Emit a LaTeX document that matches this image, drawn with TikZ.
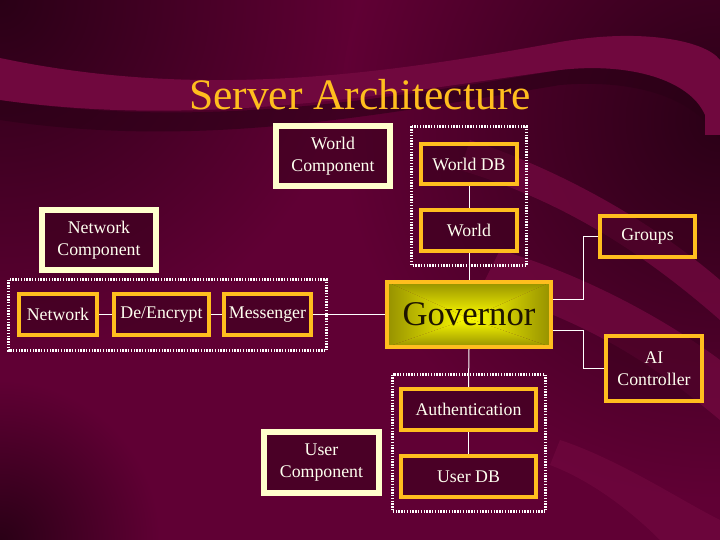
\documentclass[tikz,border=0pt]{standalone}
\usepackage{fontspec}
\setmainfont{Liberation Serif}
\definecolor{bgbase}{RGB}{96,0,52}
\definecolor{bgdark}{RGB}{42,0,22}
\definecolor{bgband}{RGB}{112,8,62}
\definecolor{boxfill}{RGB}{60,0,30}
\definecolor{cream}{RGB}{255,255,204}
\definecolor{orng}{RGB}{255,190,30}
\definecolor{labeltext}{RGB}{255,255,240}
\definecolor{govin}{RGB}{255,255,0}
\definecolor{govout}{RGB}{150,145,0}
\definecolor{govtext}{RGB}{30,20,0}
\newcommand{\lblfont}{\fontsize{17.8}{22}\selectfont}
\begin{document}
\begin{tikzpicture}[x=1pt,y=-1pt,
  cbox/.style={draw=cream, line width=6pt, fill=boxfill, fill opacity=.6, text opacity=1,
    text=labeltext, font=\lblfont, align=center, inner sep=0pt, outer sep=3pt},
  obox/.style={draw=orng, line width=4pt, fill=boxfill, fill opacity=.6, text opacity=1,
    text=labeltext, font=\lblfont, align=center, inner sep=0pt, outer sep=2pt},
  dotbox/.style={draw=white, line width=3pt, dash pattern=on 1.4pt off 1.4pt},
  wire/.style={draw=white, line width=1pt}]
\useasboundingbox (0,0) rectangle (720,540);
% ---------- background ----------
\fill[bgbase] (0,0) rectangle (720,540);
\shade[inner color=bgdark, outer color=bgbase] (0,0) circle (360);
\shade[inner color=bgdark, outer color=bgbase] (0,540) circle (160);
\shade[inner color=bgdark, outer color=bgbase] (720,120) circle (380);
\fill[bgdark, opacity=.6] (0,100) .. controls (200,130) and (380,100) .. (560,70)
   .. controls (640,58) and (700,70) .. (720,110) -- (720,140)
   .. controls (690,90) and (620,80) .. (560,85) .. controls (380,115) and (200,150) .. (0,120) -- cycle;
\fill[bgband] (0,58) .. controls (200,100) and (380,75) .. (560,42)
   .. controls (640,28) and (705,40) .. (720,60) -- (720,135) -- (705,135) -- (705,115)
   .. controls (690,80) and (630,62) .. (560,70) .. controls (380,95) and (200,128) .. (0,100) -- cycle;
\fill[bgband, opacity=.8] (500,250) .. controls (600,280) and (680,330) .. (720,360) -- (720,420)
   .. controls (660,370) and (590,320) .. (480,290) -- cycle;
\fill[bgband, opacity=.8] (470,140) .. controls (560,170) and (650,220) .. (720,280) -- (720,320)
   .. controls (640,250) and (560,200) .. (460,170) -- cycle;
\fill[bgband, opacity=.7] (560,440) .. controls (620,460) and (680,500) .. (720,520) -- (720,540) -- (660,540)
   .. controls (630,510) and (590,480) .. (550,465) -- cycle;
% ---------- title ----------
\node[anchor=base, text=orng, font=\fontsize{43.5}{48}\selectfont] (title) at (360,110) {Server Architecture};
% ---------- groups (dotted) ----------
\draw[dotbox] (411.5,126.5) rectangle (526.5,265.5);
\draw[dotbox] (8.5,279.5) rectangle (326.5,350.5);
\draw[dotbox] (392.5,374.5) rectangle (545.5,511.5);
% ---------- nodes ----------
\node[cbox, minimum width=114, minimum height=60] (wc) at (333,156) {World\\Component};
\node[cbox, minimum width=114, minimum height=60] (nc) at (99,240) {Network\\Component};
\node[cbox, minimum width=115, minimum height=61] (uc) at (321.5,462.5) {User\\Component};
\node[obox, minimum width=96, minimum height=40] (worlddb) at (469,164) {World DB};
\node[obox, minimum width=96, minimum height=41] (world) at (469,230.5) {World};
\node[obox, minimum width=78, minimum height=41] (net) at (58,314.5) {Network};
\node[obox, minimum width=95, minimum height=41] (crypt) at (161.5,314.5) {De/Encrypt};
\node[obox, minimum width=87, minimum height=41] (msg) at (267.5,314.5) {Messenger};
\node[obox, minimum width=164, minimum height=65, fill=none, fill opacity=1, text=govtext,
  font=\fontsize{34.7}{38}\selectfont,
  path picture={
    \coordinate (pc) at ([yshift=-4pt]path picture bounding box.center);
    \shade[top color=govout, bottom color=govin] (path picture bounding box.north west) -- (path picture bounding box.north east) -- (pc) -- cycle;
    \shade[top color=govin, bottom color=govout] (path picture bounding box.south west) -- (path picture bounding box.south east) -- (pc) -- cycle;
    \shade[left color=govout, right color=govin] (path picture bounding box.north west) -- (path picture bounding box.south west) -- (pc) -- cycle;
    \shade[left color=govin, right color=govout] (path picture bounding box.north east) -- (path picture bounding box.south east) -- (pc) -- cycle;
  }] (gov) at (469,314.5) {Governor};
\node[obox, minimum width=95, minimum height=41] (groups) at (647.5,236.5) {Groups};
\node[obox, minimum width=96, minimum height=65] (ai) at (654,368.5) {AI\\Controller};
\node[obox, minimum width=135, minimum height=41] (auth) at (468.5,409.5) {Authentication};
\node[obox, minimum width=135, minimum height=41] (userdb) at (468.5,476.5) {User DB};
% ---------- connectors ----------
\draw[wire] (worlddb.south) -- (world.north);
\draw[wire] (world.south) -- (gov.north);
\draw[wire] (net.east) -- (crypt.west);
\draw[wire] (crypt.east) -- (msg.west);
\draw[wire] (msg.east) -- (gov.west);
\draw[wire] ([yshift=15.5pt]gov.east) -- ++(30,0) |- (groups.west);
\draw[wire] ([yshift=-15.5pt]gov.east) -- ++(30,0) |- (ai.west);
\draw[wire] (gov.south) -- (auth.north);
\draw[wire] (auth.south) -- (userdb.north);
\end{tikzpicture}
\end{document}
